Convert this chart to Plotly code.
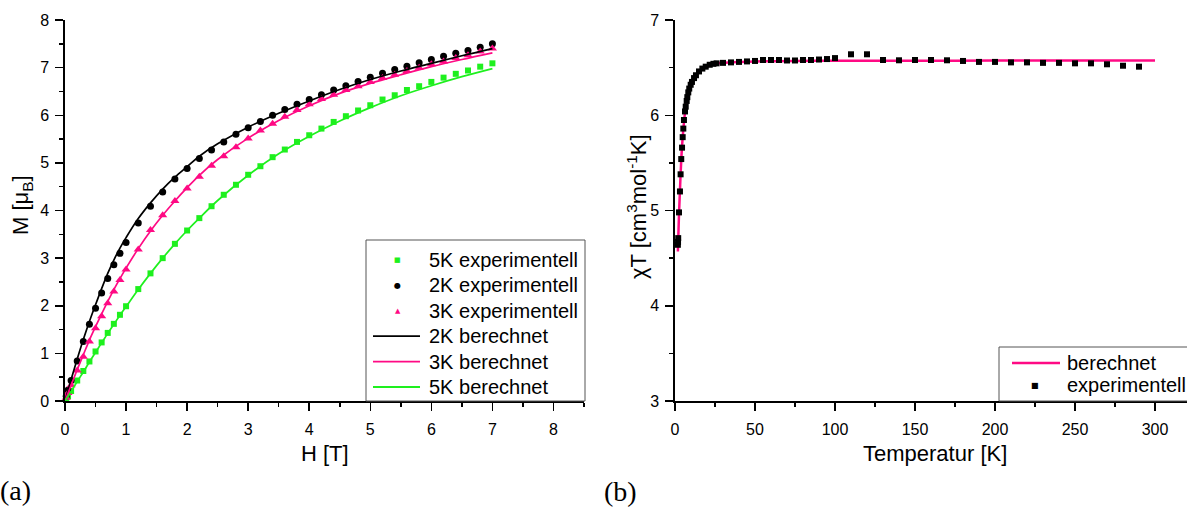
import plotly.graph_objects as go

# ---------------- data: panel (a) magnetisation ----------------
H_exp = [0.02, 0.05, 0.1, 0.2, 0.3, 0.4, 0.5, 0.6, 0.7, 0.8, 0.9, 1.0,
         1.2, 1.4, 1.6, 1.8, 2.0, 2.2, 2.4, 2.6, 2.8, 3.0, 3.2, 3.4, 3.6, 3.8,
         4.0, 4.2, 4.4, 4.6, 4.8, 5.0, 5.2, 5.4, 5.6, 5.8, 6.0, 6.2, 6.4, 6.6, 6.8, 7.0]
M_2K_exp = [0.10, 0.23, 0.43, 0.84, 1.25, 1.61, 1.95, 2.27, 2.57, 2.86, 3.10, 3.33,
            3.74, 4.09, 4.39, 4.66, 4.88, 5.09, 5.27, 5.44, 5.60, 5.74, 5.87, 6.00, 6.12, 6.23,
            6.33, 6.43, 6.53, 6.62, 6.71, 6.80, 6.88, 6.96, 7.03, 7.10, 7.17, 7.24, 7.30, 7.36, 7.43, 7.50]
M_3K_exp = [0.07, 0.17, 0.33, 0.64, 0.93, 1.25, 1.53, 1.78, 2.05, 2.30, 2.54, 2.76,
            3.18, 3.59, 3.90, 4.20, 4.46, 4.71, 4.94, 5.14, 5.33, 5.51, 5.68, 5.82, 5.97, 6.11,
            6.23, 6.34, 6.43, 6.53, 6.61, 6.70, 6.78, 6.85, 6.93, 7.00, 7.07, 7.13, 7.20, 7.26, 7.34, 7.40]
M_5K_exp = [0.04, 0.10, 0.21, 0.43, 0.63, 0.83, 1.04, 1.23, 1.43, 1.62, 1.81, 1.99,
            2.35, 2.68, 3.00, 3.30, 3.58, 3.84, 4.09, 4.33, 4.54, 4.75, 4.93, 5.12, 5.28, 5.44,
            5.58, 5.72, 5.86, 5.98, 6.10, 6.21, 6.33, 6.42, 6.53, 6.61, 6.70, 6.79, 6.87, 6.94, 7.02, 7.09]

H_calc = [0, 0.1, 0.2, 0.3, 0.4, 0.5, 0.6, 0.7, 0.8, 0.9, 1.0, 1.2, 1.4, 1.6, 1.8,
          2.0, 2.2, 2.5, 3.0, 3.5, 4.0, 4.5, 5.0, 5.5, 6.0, 6.5, 7.0]
M_2K_calc = [0, 0.45, 0.88, 1.29, 1.67, 2.02, 2.36, 2.68, 2.96, 3.21, 3.43, 3.83, 4.16, 4.45, 4.70,
             4.92, 5.14, 5.40, 5.75, 6.04, 6.30, 6.54, 6.75, 6.93, 7.09, 7.25, 7.40]
M_3K_calc = [0, 0.33, 0.66, 0.97, 1.28, 1.56, 1.83, 2.09, 2.34, 2.57, 2.79, 3.20, 3.57, 3.90, 4.20,
             4.48, 4.74, 5.07, 5.52, 5.89, 6.20, 6.46, 6.67, 6.85, 7.02, 7.17, 7.31]
M_5K_calc = [0, 0.20, 0.41, 0.61, 0.82, 1.02, 1.22, 1.42, 1.61, 1.80, 1.98, 2.34, 2.68, 3.00, 3.30,
             3.58, 3.84, 4.21, 4.74, 5.19, 5.56, 5.88, 6.16, 6.41, 6.62, 6.81, 6.98]

# ---------------- data: panel (b) chi*T ----------------
T_exp = [1.8, 1.9, 2.0, 2.5, 3.1, 3.5, 3.9, 4.4, 4.8, 5.2, 5.6, 6.25, 6.7, 7.3, 7.7, 8.3, 8.9,
         9.8, 10.6, 11.9, 13.1, 15, 17.1, 19.2, 21.7, 24, 26,
         30, 35, 40, 45, 50, 55, 60, 65, 70, 75, 80, 85, 90, 95, 100,
         110, 120, 130, 140, 150, 160, 170, 180, 190, 200, 210, 220, 230, 240, 250, 260, 270, 280, 290]
chiT_exp = [4.64, 4.67, 4.71, 4.98, 5.20, 5.38, 5.54, 5.66, 5.77, 5.86, 5.95, 6.04, 6.09, 6.15, 6.19, 6.24, 6.28,
            6.32, 6.35, 6.39, 6.42, 6.46, 6.49, 6.51, 6.53, 6.54, 6.545,
            6.55, 6.555, 6.56, 6.565, 6.57, 6.58, 6.58, 6.58, 6.575, 6.575, 6.58, 6.58, 6.585, 6.59, 6.60,
            6.64, 6.64, 6.58, 6.577, 6.58, 6.58, 6.577, 6.57, 6.56, 6.56, 6.555, 6.555, 6.55, 6.55,
            6.545, 6.545, 6.535, 6.52, 6.51]
T_calc = [1.8, 2.0, 2.5, 3.0, 3.5, 4.0, 4.5, 5.0, 6.0, 7.0, 8.0, 10, 12, 15, 20, 25, 30,
          40, 50, 75, 100, 150, 200, 250, 300]
chiT_calc = [4.57, 4.68, 4.96, 5.17, 5.38, 5.56, 5.70, 5.81, 5.99, 6.11, 6.21, 6.33, 6.40, 6.46, 6.51,
             6.535, 6.55, 6.56, 6.565, 6.57, 6.572, 6.573, 6.574, 6.575, 6.575]

legend_a = ["5K experimentell", "2K experimentell", "3K experimentell",
            "2K berechnet", "3K berechnet", "5K berechnet"]
legend_b = ["berechnet", "experimentell"]

GREEN = "#1ef01e"
PINK = "#ff0a84"
BLACK = "#000000"
FONT = "Liberation Sans, Arial, sans-serif"
SERIF = "Liberation Serif, Times New Roman, serif"

fig = go.Figure()

# panel (a)
fig.add_trace(go.Scatter(x=H_exp, y=M_5K_exp, mode="markers", name=legend_a[0],
                         marker=dict(symbol="square", size=6, color=GREEN), cliponaxis=False,
                         xaxis="x", yaxis="y"))
fig.add_trace(go.Scatter(x=H_exp, y=M_2K_exp, mode="markers", name=legend_a[1],
                         marker=dict(symbol="circle", size=7, color=BLACK), cliponaxis=False,
                         xaxis="x", yaxis="y"))
fig.add_trace(go.Scatter(x=H_exp, y=M_3K_exp, mode="markers", name=legend_a[2],
                         marker=dict(symbol="triangle-up", size=8, color=PINK), cliponaxis=False,
                         xaxis="x", yaxis="y"))
fig.add_trace(go.Scatter(x=H_calc, y=M_2K_calc, mode="lines", name=legend_a[3],
                         line=dict(color=BLACK, width=1.7, shape="spline", smoothing=1),
                         xaxis="x", yaxis="y"))
fig.add_trace(go.Scatter(x=H_calc, y=M_3K_calc, mode="lines", name=legend_a[4],
                         line=dict(color=PINK, width=1.7, shape="spline", smoothing=1),
                         xaxis="x", yaxis="y"))
fig.add_trace(go.Scatter(x=H_calc, y=M_5K_calc, mode="lines", name=legend_a[5],
                         line=dict(color=GREEN, width=1.7, shape="spline", smoothing=1),
                         xaxis="x", yaxis="y"))

# panel (b)
fig.add_trace(go.Scatter(x=T_calc, y=chiT_calc, mode="lines", name=legend_b[0],
                         line=dict(color=PINK, width=2.5, shape="spline", smoothing=0.6),
                         xaxis="x2", yaxis="y2"))
fig.add_trace(go.Scatter(x=T_exp, y=chiT_exp, mode="markers", name=legend_b[1],
                         marker=dict(symbol="square", size=6, color=BLACK), cliponaxis=False,
                         xaxis="x2", yaxis="y2"))

W, Hh = 1187, 511
ybot, ytop = (Hh - 401) / Hh, (Hh - 20) / Hh


def px(x):
    return x / W


def py(y):
    return (Hh - y) / Hh


def axis_style(rng, dtick, minor_dtick, domain, anchor, standoff):
    return dict(range=rng, domain=domain, anchor=anchor, dtick=dtick, tick0=0,
                ticks="outside", ticklen=8, tickwidth=1.5, tickcolor="black",
                showline=True, linecolor="black", linewidth=1.6,
                showgrid=False, zeroline=False, automargin=False,
                ticklabelstandoff=standoff,
                tickfont=dict(family=FONT, size=16, color="black"),
                minor=dict(dtick=minor_dtick, ticks="outside", ticklen=4,
                           tickwidth=1.5, tickcolor="black", showgrid=False))


fig.update_layout(
    width=W, height=Hh,
    margin=dict(l=0, r=0, t=0, b=0),
    paper_bgcolor="white", plot_bgcolor="white",
    font=dict(family=FONT, color="black"),
    xaxis=axis_style([0, 8.5], 1, 0.5, [65 / W, 584 / W], "y", 5),
    yaxis=axis_style([0, 8], 1, 0.5, [ybot, ytop], "x", 3),
    xaxis2=axis_style([0, 320], 50, 25, [675 / W, 1.0], "y2", 5),
    yaxis2=axis_style([3, 7], 1, 0.5, [ybot, ytop], "x2", 3),
    showlegend=False,
)

shapes = []
ann = [
    dict(text="H [T]", x=px(324.5), y=py(453), font=dict(size=22)),
    dict(text="Temperatur [K]", x=px(935), y=py(453), font=dict(size=22)),
    dict(text="M [μ<sub>B</sub>]", x=px(22), y=py(205), textangle=-90, font=dict(size=22)),
    dict(text="χT [cm<sup>3</sup>mol<sup>-1</sup>K]", x=px(637), y=py(207),
         textangle=-90, font=dict(size=22)),
    dict(text="(a)", x=px(-2), y=py(490), xanchor="left", font=dict(size=28, family=SERIF)),
    dict(text="(b)", x=px(602), y=py(491), xanchor="left", font=dict(size=28, family=SERIF)),
]

# legend (a): framed box with symbols and labels
shapes.append(dict(type="rect", xref="paper", yref="paper", x0=px(366), x1=px(585),
                   y0=py(401), y1=py(240), line=dict(color="#555555", width=1),
                   fillcolor="white", layer="above"))
rows_a = [260, 285.4, 310.8, 336.2, 361.6, 387]
sym_a = [("■", GREEN, 7), ("●", BLACK, 8), ("▲", PINK, 7)]
for i, (s, c, fs) in enumerate(sym_a):
    ann.append(dict(text=s, x=px(397.5), y=py(rows_a[i]), font=dict(size=fs, color=c,
                                                                    family="DejaVu Sans")))
line_cols = [BLACK, PINK, GREEN]
for j, c in enumerate(line_cols):
    yy = py(rows_a[3 + j])
    shapes.append(dict(type="line", xref="paper", yref="paper", x0=px(373), x1=px(420),
                       y0=yy, y1=yy, line=dict(color=c, width=1.8), layer="above"))
for i, t in enumerate(legend_a):
    ann.append(dict(text=t, x=px(427), y=py(rows_a[i]), xanchor="left", font=dict(size=20)))

# legend (b)
shapes.append(dict(type="rect", xref="paper", yref="paper", x0=px(999), x1=px(1195),
                   y0=py(401), y1=py(347), line=dict(color="#555555", width=1),
                   fillcolor="white", layer="above"))
rows_b = [363, 385]
shapes.append(dict(type="line", xref="paper", yref="paper", x0=px(1012), x1=px(1060),
                   y0=py(rows_b[0]), y1=py(rows_b[0]), line=dict(color=PINK, width=2.5),
                   layer="above"))
ann.append(dict(text="■", x=px(1035), y=py(rows_b[1]), font=dict(size=8, color=BLACK,
                                                                 family="DejaVu Sans")))
for i, t in enumerate(legend_b):
    ann.append(dict(text=t, x=px(1065), y=py(rows_b[i]), xanchor="left", font=dict(size=20)))

for a in ann:
    a.setdefault("xanchor", "center")
    a.update(xref="paper", yref="paper", yanchor="middle", showarrow=False)
    a["font"].setdefault("family", FONT)
    a["font"].setdefault("color", "black")
fig.update_layout(annotations=ann, shapes=shapes)

fig.write_html("out.html",
               config={"displayModeBar": False, "staticPlot": True},
               post_script="document.body.style.margin='0';document.body.style.padding='0';")
